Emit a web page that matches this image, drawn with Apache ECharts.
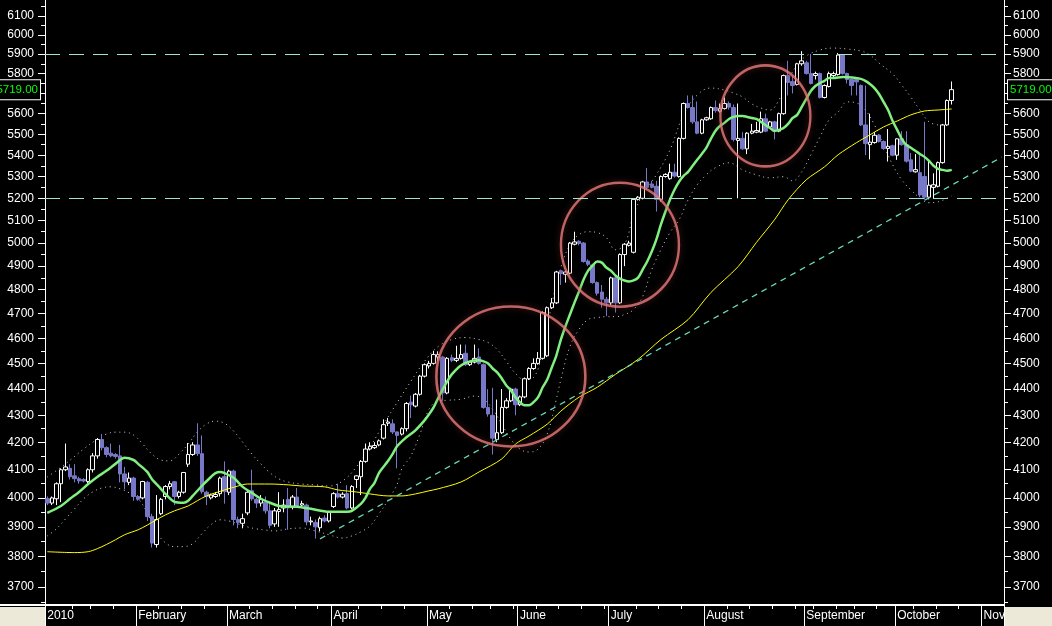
<!DOCTYPE html>
<html><head><meta charset="utf-8">
<script src="https://cdn.jsdelivr.net/npm/echarts@6/dist/echarts.min.js"></script>
<style>html,body{margin:0;padding:0;background:#000;overflow:hidden}#c{width:1052px;height:626px}</style>
</head><body><div id="c"></div>
<script>
// ---- tick labels ----
const monthNames = ['2010','February','March','April','May','June','July','August','September','October','Nov'];
const monthDays  = [20,20,23,21,20,20,21,22,20,19,5];
const weekTicks  = [6,10,15,25,30,35,45,50,55,60,69,74,79,89,94,98,103,108,113,118,123,130,135,140,150,155,160,165,169,174,178,183,191,196,201];
const yTicks     = [3700,3800,3900,4000,4100,4200,4300,4400,4500,4600,4700,4800,4900,5000,5100,5200,5300,5400,5500,5600,5700,5800,5900,6000,6100];
const yMinorTicks= [3650,3750,3850,3950,4050,4150,4250,4350,4450,4550,4650,4750,4850,4950,5050,5150,5250,5350,5450,5550,5650,5750,5850,5950,6050,6150];

// ---- daily prices ----
const open = [
3997,3982,3997,4050,4100,4105,4078,4068,4065,4058,
4100,4150,4210,4180,4160,4155,4150,4085,4055,4070,
4005,4000,4055,3935,3840,3945,4005,4040,4057,4005,
4020,4120,4155,4190,4158,4020,4000,4005,4015,4075,
4020,4095,3925,3912,3948,4025,3995,3982,3985,3955,
3910,3953,3965,3995,3968,4003,3975,3975,3917,3915,
3897,3930,3920,3970,4015,4003,4015,3965,4065,4075,
4130,4175,4180,4190,4215,4270,4268,4238,4230,4250,
4350,4335,4380,4450,4490,4500,4525,4525,4385,4522,
4512,4520,4540,4495,4505,4525,4495,4330,4300,4210,
4235,4330,4355,4400,4340,4370,4440,4480,4500,4520,
4530,4725,4745,4880,4865,4870,4995,5008,5000,4922,
4905,4830,4790,4760,4745,4850,4745,4950,4990,4960,
5195,5200,5275,5265,5255,5195,5300,5290,5320,5300,
5480,5650,5630,5560,5505,5570,5575,5630,5612,5625,
5650,5630,5470,5480,5430,5505,5510,5510,5575,5535,
5560,5515,5600,5790,5760,5745,5850,5855,5800,5790,
5800,5680,5735,5790,5795,5895,5800,5770,5770,5740,
5545,5450,5460,5495,5465,5432,5445,5400,5478,5450,
5378,5322,5318,5300,5205,5250,5255,5365,5545,5665];
const close = [
3982,4000,4050,4100,4110,4075,4068,4060,4060,4100,
4150,4210,4180,4155,4150,4148,4085,4057,4070,4005,
3995,4058,3935,3845,3925,3995,4040,4050,4005,4020,
4090,4155,4190,4158,4022,4005,4010,4012,4070,4022,
4095,3925,3915,3928,4020,3997,3982,3995,3955,3905,
3955,3960,3975,3965,4003,3972,3980,3917,3920,3900,
3928,3920,3950,4015,4003,4013,3965,4040,4078,4130,
4175,4185,4188,4205,4265,4275,4238,4225,4250,4345,
4340,4380,4450,4495,4500,4535,4535,4385,4520,4512,
4520,4535,4495,4505,4520,4500,4330,4305,4215,4235,
4330,4355,4400,4340,4370,4440,4480,4500,4520,4705,
4725,4745,4875,4868,4875,5000,5005,4998,4920,4908,
4830,4785,4760,4745,4850,4745,4950,4995,5000,5195,
5205,5275,5250,5250,5195,5300,5310,5320,5302,5480,
5650,5630,5560,5505,5570,5580,5630,5615,5625,5650,
5632,5475,5480,5430,5505,5515,5518,5575,5515,5560,
5515,5600,5790,5755,5740,5850,5865,5800,5750,5800,
5680,5740,5800,5800,5895,5800,5770,5740,5758,5545,
5455,5462,5495,5465,5432,5442,5400,5478,5450,5372,
5325,5332,5215,5205,5260,5262,5365,5545,5665,5719];
const low = [
3975,3975,3975,3985,4095,4065,4055,4050,4055,4050,
4090,4140,4170,4145,4145,4140,4055,4030,4045,3990,
3990,3995,3920,3830,3830,3940,3995,4030,3975,3998,
4015,4110,4150,4150,4015,3975,3995,4000,4005,3980,
4010,3905,3895,3895,3940,3990,3965,3970,3945,3895,
3900,3900,3950,3890,3960,3965,3970,3905,3905,3860,
3885,3915,3915,3965,3998,3998,3960,3960,4035,4010,
4125,4170,4175,4185,4210,4260,4230,4105,4225,4240,
4290,4330,4375,4445,4480,4495,4510,4355,4380,4505,
4505,4515,4490,4490,4500,4495,4325,4295,4155,4200,
4230,4325,4350,4300,4335,4365,4435,4475,4495,4515,
4525,4720,4740,4820,4830,4865,4990,4990,4915,4900,
4825,4775,4725,4690,4735,4705,4740,4900,4985,4955,
5190,5195,5240,5245,5140,5185,5295,5285,5295,5295,
5475,5625,5550,5500,5500,5565,5570,5605,5605,5620,
5620,5465,5200,5425,5405,5500,5505,5505,5510,5530,
5475,5510,5595,5690,5700,5740,5840,5795,5745,5770,
5675,5675,5730,5780,5790,5795,5750,5690,5690,5540,
5400,5380,5455,5460,5425,5370,5395,5378,5445,5365,
5320,5318,5205,5195,5195,5200,5250,5360,5540,5645];
const high = [
4005,4005,4055,4105,4195,4120,4120,4075,4070,4105,
4160,4215,4230,4185,4195,4160,4190,4110,4090,4075,
4010,4060,4060,3945,4010,4000,4045,4060,4060,4025,
4092,4197,4200,4270,4225,4025,4015,4020,4075,4130,
4100,4100,3935,3945,4025,4100,4000,4010,4005,3985,
3965,4020,3995,4035,4010,4035,3990,3980,3935,3925,
3935,3940,3955,4020,4050,4020,4045,4045,4080,4135,
4195,4200,4200,4210,4285,4290,4285,4240,4255,4350,
4375,4385,4455,4500,4510,4550,4548,4530,4525,4535,
4570,4575,4575,4510,4575,4560,4500,4400,4405,4360,
4400,4365,4405,4405,4375,4445,4485,4520,4545,4710,
4730,4765,4880,4885,4880,5005,5050,5012,5005,4930,
4910,4835,4820,4770,4855,4855,4955,5000,5010,5200,
5210,5280,5340,5280,5280,5305,5315,5360,5360,5485,
5655,5690,5690,5660,5575,5585,5635,5665,5650,5680,
5660,5645,5650,5510,5510,5550,5560,5610,5600,5565,
5565,5605,5795,5865,5790,5855,5915,5865,5900,5810,
5805,5745,5810,5810,5905,5900,5805,5775,5775,5745,
5740,5600,5510,5500,5470,5525,5450,5480,5515,5515,
5410,5405,5400,5560,5375,5315,5370,5550,5670,5760];

// ---- indicator lines: [trading-day index, value] ----
const greenLine = [[0,3948],[3,3972],[5,3997],[7,4021],[9,4049],[11,4074],[13,4096],[15,4121],[17,4143],[19,4135],[20,4121],[22,4092],[23,4067],[25,4032],[26,4014],[28,3986],[30,3983],[31,3990],[32,4007],[34,4042],[36,4074],[37,4088],[38,4092],[39,4088],[41,4071],[43,4039],[45,4018],[47,3997],[49,3983],[51,3972],[55,3969],[58,3962],[62,3952],[66,3952],[67,3955],[69,3979],[70,4000],[71,4032],[72,4053],[73,4089],[75,4132],[76,4157],[77,4186],[79,4218],[81,4244],[83,4281],[84,4304],[85,4330],[86,4365],[87,4399],[88,4430],[89,4457],[91,4492],[93,4508],[95,4512],[96,4508],[97,4500],[98,4480],[99,4465],[100,4441],[101,4414],[102,4395],[103,4369],[104,4350],[105,4338],[106,4338],[107,4350],[108,4369],[109,4407],[110,4437],[111,4484],[112,4531],[113,4595],[114,4648],[115,4697],[116,4746],[117,4793],[118,4843],[119,4881],[120,4903],[121,4920],[122,4915],[123,4894],[124,4881],[125,4860],[126,4847],[127,4839],[128,4835],[129,4839],[130,4851],[131,4885],[132,4920],[133,4963],[134,5015],[135,5081],[136,5139],[137,5193],[138,5239],[139,5276],[140,5303],[141,5322],[142,5350],[143,5378],[144,5406],[145,5435],[146,5478],[147,5516],[148,5540],[149,5555],[150,5574],[151,5584],[152,5589],[153,5589],[154,5584],[155,5579],[156,5574],[157,5560],[158,5545],[159,5530],[160,5516],[161,5521],[162,5530],[163,5550],[164,5579],[165,5594],[166,5633],[167,5673],[168,5712],[169,5737],[170,5752],[171,5763],[172,5778],[173,5778],[175,5783],[178,5778],[179,5773],[180,5763],[181,5747],[182,5727],[183,5697],[184,5658],[185,5618],[186,5564],[187,5521],[188,5478],[189,5449],[190,5435],[191,5421],[192,5406],[193,5392],[194,5373],[195,5350],[196,5336],[197,5331],[198,5327],[199,5331]];
const yellowLine = [[0,3816],[6,3813],[9,3816],[11,3826],[13,3840],[15,3856],[17,3873],[20,3890],[22,3906],[24,3924],[26,3941],[28,3955],[31,3972],[33,3990],[35,4007],[37,4018],[39,4028],[42,4042],[44,4049],[49,4049],[53,4046],[56,4042],[61,4039],[64,4028],[68,4021],[71,4014],[75,4007],[78,4007],[81,4014],[84,4025],[86,4032],[91,4056],[95,4092],[100,4139],[103,4193],[106,4223],[110,4267],[113,4316],[117,4369],[121,4407],[125,4457],[130,4516],[135,4595],[141,4676],[146,4788],[152,4898],[156,5002],[160,5103],[163,5193],[167,5285],[171,5345],[174,5402],[178,5459],[181,5497],[184,5535],[187,5564],[190,5594],[193,5613],[196,5618],[199,5623]];
const upperBand = [[0,4074],[4,4121],[8,4175],[11,4211],[13,4230],[15,4237],[17,4237],[19,4226],[21,4193],[23,4157],[25,4135],[27,4132],[29,4157],[31,4193],[33,4237],[35,4267],[37,4278],[39,4270],[41,4241],[43,4200],[45,4157],[47,4121],[49,4089],[51,4067],[53,4056],[56,4049],[59,4046],[62,4042],[65,4060],[68,4110],[71,4182],[74,4267],[77,4349],[80,4430],[83,4508],[86,4567],[89,4595],[92,4603],[95,4595],[97,4583],[99,4555],[101,4508],[103,4461],[105,4437],[107,4445],[109,4555],[111,4738],[113,4894],[115,4993],[117,5037],[119,5050],[121,5046],[123,5024],[125,4971],[127,4993],[129,5126],[131,5216],[134,5308],[137,5425],[140,5594],[143,5692],[146,5727],[149,5717],[151,5702],[153,5682],[155,5648],[157,5628],[159,5618],[161,5668],[163,5768],[165,5844],[167,5890],[170,5921],[173,5931],[176,5926],[179,5916],[181,5895],[183,5854],[186,5798],[188,5742],[190,5682],[192,5618],[194,5560],[196,5545]];
const lowerBand = [[0,3869],[2,3893],[4,3927],[6,3962],[8,3997],[10,4021],[12,4035],[14,4039],[16,4032],[18,4018],[20,3997],[22,3948],[24,3883],[26,3846],[28,3833],[30,3833],[32,3843],[34,3876],[36,3907],[38,3924],[40,3920],[42,3910],[44,3900],[46,3893],[48,3889],[50,3886],[53,3893],[56,3896],[59,3886],[62,3873],[65,3862],[67,3869],[69,3883],[71,3903],[73,3945],[75,3993],[77,4049],[78,4103],[80,4150],[82,4230],[84,4323],[86,4354],[88,4357],[91,4361],[94,4373],[96,4361],[98,4323],[100,4267],[102,4211],[104,4175],[106,4164],[108,4175],[110,4230],[112,4361],[113,4437],[115,4567],[117,4636],[119,4676],[121,4684],[123,4688],[125,4688],[127,4697],[129,4717],[131,4772],[133,4885],[135,4971],[137,5046],[139,5103],[141,5193],[143,5262],[145,5308],[147,5341],[150,5364],[153,5331],[156,5308],[159,5294],[162,5299],[164,5280],[166,5322],[168,5402],[170,5487],[172,5569],[174,5608],[176,5658],[178,5653],[180,5618],[182,5545],[184,5449],[186,5355],[188,5285],[190,5239],[192,5202],[194,5180],[196,5184],[199,5211]];
const trendLine = [[60,3859],[210,5391]];
const levels = [5900, 5200];
const circles = [[101.5,4449],[126.4,4993],[158.1,5589]];
const circleSizes = [[149,140],[118,124],[90,101]];

// ---- build ----
const categories = [];
const monthStart = {};
monthNames.forEach((m, k) => {
  monthStart[categories.length] = m;
  for (let d = 0; d < monthDays[k]; d++) categories.push(m + ' ' + (d + 1));
});
const weekSet = new Set(weekTicks);
const candles = open.map((o, i) => [o, close[i], low[i], high[i]]);
const lastClose = close[close.length - 1];
const yMin = 3642, yMax = 6186;
const FONT = 'Liberation Sans';

function yAx(pos, major) {
  return {
    type: 'log', logBase: 10, min: yMin, max: yMax, position: pos,
    splitLine: {show: false},
    axisLine: {show: true, lineStyle: {color: '#fff', width: 1}},
    axisTick: {show: true, customValues: major ? yTicks : yMinorTicks, length: major ? 7 : 4, lineStyle: {color: '#fff'}},
    axisLabel: major ? {show: true, customValues: yTicks, formatter: v => String(Math.round(v)),
      color: '#fff', fontSize: 12, fontFamily: FONT, margin: pos === 'left' ? 11 : 9} : {show: false}
  };
}
const priceLabel = {
  show: true, formatter: lastClose.toFixed(2), color: '#00ff00', fontSize: 11.5, fontFamily: FONT,
  backgroundColor: '#000', borderColor: '#fff', borderWidth: 1, padding: [4, 2, 3, 2], opacity: 1
};
const hiddenLine = {color: 'rgba(0,0,0,0)', width: 0.01, opacity: 1};

const option = {
  backgroundColor: '#000',
  animation: false,
  grid: {left: 45, right: 48, top: 0, bottom: 21, containLabel: false},
  xAxis: [{
    type: 'category', data: categories, position: 'bottom', boundaryGap: true,
    axisLine: {show: true, onZero: false, lineStyle: {color: '#fff', width: 2}},
    axisTick: {show: true, interval: (i) => weekSet.has(i), length: 4, lineStyle: {color: '#fff'}},
    axisLabel: {show: true, interval: (i) => i in monthStart, align: 'left', color: '#fff', fontSize: 12,
      fontFamily: FONT, margin: 5, formatter: (v, i) => monthStart[i] || ''},
    splitLine: {show: false}
  }, {
    type: 'category', data: categories, position: 'bottom', boundaryGap: true,
    axisLine: {show: false, onZero: false},
    axisTick: {show: true, interval: (i) => i in monthStart, length: 21, lineStyle: {color: '#fff'}},
    axisLabel: {show: false}, splitLine: {show: false}
  }],
  yAxis: [yAx('left', true), yAx('right', true), yAx('left', false), yAx('right', false)],
  graphic: [
    {type: 'rect', left: 0, top: 607, shape: {width: 45, height: 19}, style: {fill: '#ece9d8'}, z: 100},
    {type: 'rect', left: 1005, top: 607, shape: {width: 47, height: 19}, style: {fill: '#ece9d8'}, z: 100},
    {type: 'rect', left: 0, top: 604, shape: {width: 45, height: 2}, style: {fill: '#fff'}, z: 100}
  ],
  series: [
    {type: 'line', data: upperBand, smooth: 0.4, symbol: 'none', silent: true, z: 1,
     lineStyle: {color: '#cfcfcf', width: 1, type: [1, 3.8]}},
    {type: 'line', data: lowerBand, smooth: 0.4, symbol: 'none', silent: true, z: 1,
     lineStyle: {color: '#cfcfcf', width: 1, type: [1, 3.8]}},
    {type: 'candlestick', data: candles, barWidth: 4, silent: true, z: 2,
     itemStyle: {color: '#000', color0: '#7878c8', borderColor: '#ffffff', borderColor0: '#7878c8', borderWidth: 1},
     markLine: {
       silent: true, symbol: ['none', 'none'], animation: false, z: 20,
       data: levels.map(v => ({yAxis: v, lineStyle: {color: '#9fe6d2', width: 1, type: [15, 9]}, label: {show: false}}))
         .concat([
           {yAxis: lastClose, lineStyle: hiddenLine, label: Object.assign({position: 'start', distance: 5}, priceLabel)},
           {yAxis: lastClose, lineStyle: hiddenLine, label: Object.assign({position: 'end', distance: 4}, priceLabel)}
         ])
     }},
    {type: 'line', data: yellowLine, smooth: 0.3, symbol: 'none', silent: true, z: 3,
     lineStyle: {color: '#ffff00', width: 1}},
    {type: 'line', data: greenLine, smooth: 0.3, symbol: 'none', silent: true, z: 4,
     lineStyle: {color: '#80f080', width: 2.5}},
    {type: 'line', data: trendLine, symbol: 'none', silent: true, z: 4,
     lineStyle: {color: '#66dbb8', width: 1.3, type: [6, 5]}},
    {type: 'scatter', data: circles, symbol: 'circle', silent: true, z: 10,
     symbolSize: (v, p) => circleSizes[p.dataIndex],
     itemStyle: {color: 'rgba(0,0,0,0)', borderColor: '#e87c7c', borderWidth: 2.5,
       shadowBlur: 6, shadowColor: 'rgba(110,40,40,0.9)'}}
  ]
};
const chart = echarts.init(document.getElementById('c'), null, {renderer: 'canvas'});
chart.setOption(option);
</script>
</body></html>
